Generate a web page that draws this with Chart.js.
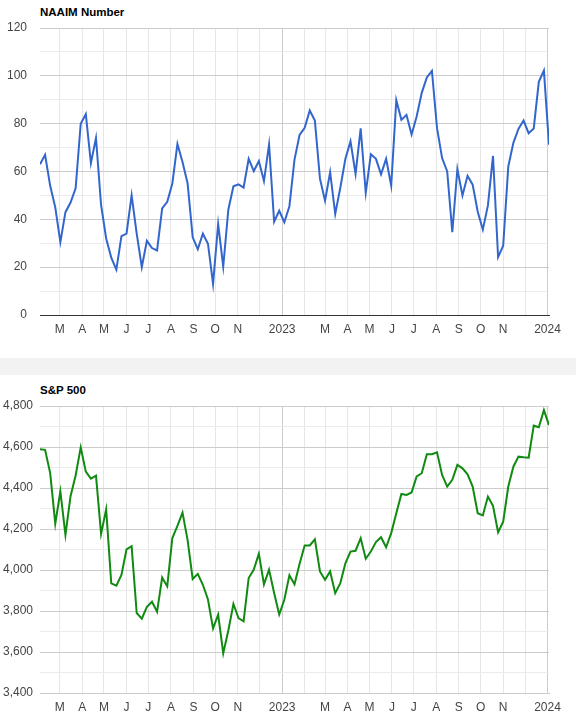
<!DOCTYPE html>
<html>
<head>
<meta charset="utf-8">
<script src="https://cdn.jsdelivr.net/npm/chart.js@4.4.0/dist/chart.umd.min.js"></script>
<style>
  body { margin: 0; background: #fff; width: 576px; height: 724px; overflow: hidden; position: relative; font-family: Arial, "Liberation Sans", sans-serif; }
  .title { position: absolute; left: 40px; font-size: 11.5px; font-weight: bold; color: #000; }
  .band { position: absolute; left: 0; top: 358px; width: 576px; height: 17px; background: #f2f2f2; }
  .box { position: absolute; left: 0; width: 576px; height: 345px; }
</style>
</head>
<body>
<div class="title" style="top:6px">NAAIM Number</div>
<div class="box" style="top:0"><canvas id="naaim"></canvas></div>
<div class="band"></div>
<div class="title" style="top:384px">S&amp;P 500</div>
<div class="box" style="top:378px"><canvas id="spx"></canvas></div>
<script>
// weekly readings, first week 2022-02-02, last 2024-01-03
const startDate = "2022-02-02";

const naaim = [
  63, 67, 54, 45, 30.5, 43, 47, 53, 80, 84, 63.5, 74, 46, 32, 24, 19, 33, 34, 50, 34,
  20, 31, 28, 27, 44.6, 47.3, 55, 71.5, 64, 55, 32.5, 27.5, 34, 29.8, 13, 38, 20.2, 44, 53.8, 54.6,
  53.3, 65.3, 60.2, 64.4, 56, 71.3, 39, 43.6, 38.8, 45.5, 65, 75.3, 78.3, 85.5, 81.3, 57, 47.8, 59.7, 42.3, 53.2,
  65.3, 72.6, 59, 78, 51.1, 67.2, 65.3, 58.8, 65.3, 54.1, 89.8, 81.6, 83.7, 75.5, 83, 92.9, 99.3, 102.1, 78.1, 65.6,
  60, 34.6, 61, 50, 58.2, 54.5, 43.2, 35.7, 45.8, 66.5, 24.2, 29, 62.1, 72, 77.8, 81.3, 76, 78, 97.5, 102.2,
  71.2
];

const spx = [
  4589, 4586, 4473, 4226, 4384, 4171, 4360, 4461, 4598, 4480, 4446, 4460, 4176, 4296, 3935, 3924, 3976, 4101, 4116, 3790,
  3763, 3820, 3845, 3796, 3963, 3920, 4156, 4215, 4280, 4146, 3956, 3981, 3928, 3856, 3715, 3782, 3594, 3705, 3834, 3765,
  3750, 3961, 4002, 4079, 3930, 4002, 3888, 3783, 3855, 3974, 3930, 4030, 4120, 4120, 4150, 3993, 3952, 3993, 3887, 3936,
  4033, 4090, 4094, 4155, 4055, 4090, 4136, 4160, 4111, 4180, 4277, 4371, 4366, 4378, 4456, 4472, 4565, 4565, 4574, 4464,
  4407, 4440, 4513, 4496, 4467, 4407, 4277, 4266, 4358, 4313, 4184, 4236, 4407, 4504, 4553, 4550, 4548, 4704, 4696, 4780,
  4707
];

const tickDates = [
  "2022-03-01", "2022-04-01", "2022-05-01", "2022-06-01", "2022-07-01", "2022-08-01", "2022-09-01",
  "2022-10-01", "2022-11-01", "2022-12-01", "2023-01-01", "2023-02-01", "2023-03-01", "2023-04-01",
  "2023-05-01", "2023-06-01", "2023-07-01", "2023-08-01", "2023-09-01", "2023-10-01", "2023-11-01",
  "2023-12-01", "2024-01-01"
];
const tickLabels = [
  "M", "A", "M", "J", "J", "A", "S", "O", "N", "", "2023", "",
  "M", "A", "M", "J", "J", "A", "S", "O", "N", "", "2024"
];

const DAY = 86400000;
const t0 = Date.parse(startDate);
const tickDays = tickDates.map(d => Math.round((Date.parse(d) - t0) / DAY));
const points = arr => arr.map((v, i) => ({ x: i * 7, y: v }));

const tickFont = { family: "Arial, 'Liberation Sans', sans-serif", size: 12 };

function makeChart(id, values, color, yMin, yMax, major, minor, fmt, baseColor, yPad) {
  return new Chart(document.getElementById(id), {
    type: "line",
    data: {
      datasets: [{
        data: points(values),
        borderColor: color,
        borderWidth: 2,
        pointRadius: 0,
        tension: 0,
        fill: false
      }]
    },
    options: {
      responsive: true,
      maintainAspectRatio: false,
      animation: false,
      layout: { padding: { top: 28, right: 27, left: 0, bottom: 0 } },
      plugins: { legend: { display: false }, tooltip: { enabled: false } },
      scales: {
        x: {
          type: "linear",
          min: 0,
          max: (values.length - 1) * 7,
          afterBuildTicks: s => { s.ticks = tickDays.map(v => ({ value: v })); },
          afterFit: s => { s.height = 30; },
          ticks: {
            autoSkip: false,
            maxRotation: 0,
            padding: 7,
            color: "#444",
            font: tickFont,
            callback: (v, i) => tickLabels[i]
          },
          grid: {
            drawTicks: false,
            color: c => (/^20/.test(tickLabels[c.index]) ? "#cccccc" : "#e6e6e6")
          },
          border: { display: true, color: baseColor, width: 1 }
        },
        y: {
          min: yMin,
          max: yMax,
          afterBuildTicks: s => {
            const t = [];
            for (let v = yMin; v <= yMax; v += minor) t.push({ value: v });
            s.ticks = t;
          },
          afterFit: s => { s.width = 40; },
          ticks: {
            padding: yPad,
            color: "#444",
            font: tickFont,
            callback: v => (v % major === 0 ? fmt(v) : "")
          },
          grid: {
            drawTicks: false,
            color: c => {
              const v = c.tick.value;
              if (v === yMin) return baseColor;
              return v % major === 0 ? "#cccccc" : "#ebebeb";
            }
          },
          border: { display: false }
        }
      }
    }
  });
}

makeChart("naaim", naaim, "#3366cc", 0, 120, 20, 10, v => String(v), "#333333", 13);
makeChart("spx", spx, "#118a11", 3400, 4800, 200, 100, v => v.toLocaleString("en-US"), "#cccccc", 7);
</script>
</body>
</html>
